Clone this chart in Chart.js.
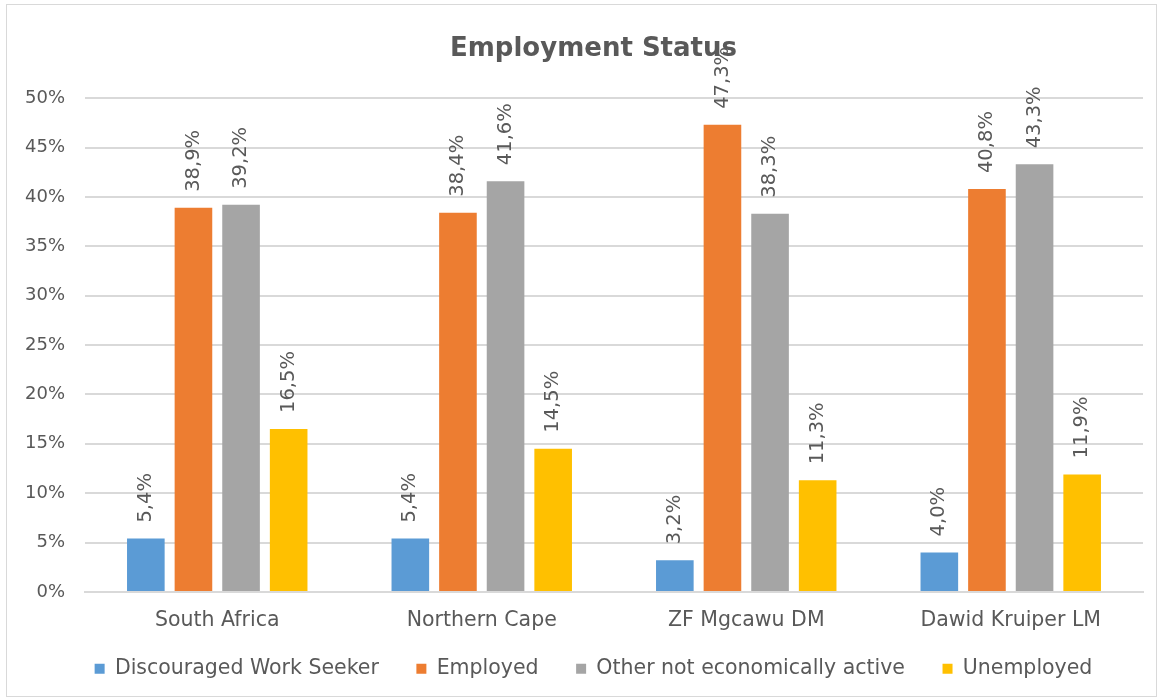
<!DOCTYPE html>
<html>
<head>
<meta charset="utf-8">
<script src="https://cdn.jsdelivr.net/npm/chart.js@4/dist/chart.umd.min.js"></script>
<style>
  body { margin: 0; background: #fff; }
  #wrap { width: 1162px; height: 698px; }
</style>
</head>
<body>
<div id="wrap"><canvas id="empChart" width="1162" height="698"></canvas></div>
<script>
const regions = ["South Africa", "Northern Cape", "ZF Mgcawu DM", "Dawid Kruiper LM"];
const discouraged = [5.4, 5.4, 3.2, 4.0];
const employed = [38.9, 38.4, 47.3, 40.8];
const otherInactive = [39.2, 41.6, 38.3, 43.3];
const unemployed = [16.5, 14.5, 11.3, 11.9];
const yTicks = [0, 5, 10, 15, 20, 25, 30, 35, 40, 45, 50];

const textGrey = '#595959';
const fontName = '"DejaVu Sans", sans-serif';

// format like the original: comma decimal
function pct(v) {
    return v.toFixed(1).replace('.', ',') + '%';
}

// border around the whole chart
const frame = {
    id: 'frame',
    beforeDraw(chart) {
        const c = chart.ctx;
        c.save();
        c.fillStyle = '#fff';
        c.fillRect(0, 0, chart.width, chart.height);
        c.strokeStyle = '#d9d9d9';
        c.lineWidth = 1;
        c.strokeRect(6.5, 4.5, 1150, 692);
        c.restore();
    }
};

// vertical value labels above each bar
const barLabels = {
    id: 'barLabels',
    afterDatasetsDraw(chart) {
        const c = chart.ctx;
        c.save();
        c.font = '19.5px ' + fontName;
        c.fillStyle = textGrey;
        c.textAlign = 'left';
        c.textBaseline = 'middle';
        chart.data.datasets.forEach((ds, i) => {
            chart.getDatasetMeta(i).data.forEach((bar, j) => {
                c.save();
                c.translate(bar.x, bar.y - 16);
                c.rotate(-Math.PI / 2);
                c.fillText(pct(ds.data[j]), 0, 0);
                c.restore();
            });
        });
        c.restore();
    }
};

new Chart(document.getElementById('empChart'), {
    type: 'bar',
    data: {
        labels: regions,
        datasets: [
            { label: 'Discouraged Work Seeker', data: discouraged, backgroundColor: '#5B9BD5' },
            { label: 'Employed', data: employed, backgroundColor: '#ED7D31' },
            { label: 'Other not economically active', data: otherInactive, backgroundColor: '#A5A5A5' },
            { label: 'Unemployed', data: unemployed, backgroundColor: '#FFC000' }
        ]
    },
    options: {
        responsive: false,
        animation: false,
        devicePixelRatio: 1,
        categoryPercentage: 0.72,
        barPercentage: 0.79,
        // right padding is negative on purpose: an empty right axis takes the room back,
        // which centres the title and legend like the original
        layout: { padding: { top: 18, left: 11, right: -14, bottom: 9 } },
        plugins: {
            title: {
                display: true,
                text: 'Employment Status',
                color: textGrey,
                font: { family: fontName, size: 26, weight: 'bold' },
                padding: { top: 16, bottom: 33 }
            },
            legend: {
                position: 'bottom',
                labels: {
                    color: textGrey,
                    font: { family: fontName, size: 20.5 },
                    boxWidth: 10,
                    boxHeight: 10,
                    padding: 18,
                    // wider gaps between entries without a taller legend
                    generateLabels: (chart) => {
                        const items = Chart.defaults.plugins.legend.labels.generateLabels(chart);
                        items.forEach((it, i) => { if (i < items.length - 1) it.text += '   '; });
                        return items;
                    }
                }
            },
            tooltip: { enabled: false }
        },
        scales: {
            x: {
                grid: { display: false },
                border: { color: '#d9d9d9', width: 2 },
                ticks: { color: textGrey, font: { family: fontName, size: 20.5 }, padding: 8 }
            },
            y: {
                min: 0,
                max: 50,
                afterBuildTicks: (scale) => { scale.ticks = yTicks.map(v => ({ value: v })); },
                afterFit: (scale) => { scale.width = 74; },
                grid: { color: '#d9d9d9', lineWidth: 2, drawTicks: false },
                border: { display: false },
                ticks: {
                    color: textGrey,
                    font: { family: fontName, size: 18 },
                    padding: 20,
                    callback: (v) => v + '%'
                }
            },
            yRight: {
                position: 'right',
                min: 0,
                max: 50,
                afterFit: (scale) => { scale.width = 33; },
                grid: { display: false },
                border: { display: false },
                ticks: { display: false }
            }
        }
    },
    plugins: [frame, barLabels]
});
</script>
</body>
</html>
